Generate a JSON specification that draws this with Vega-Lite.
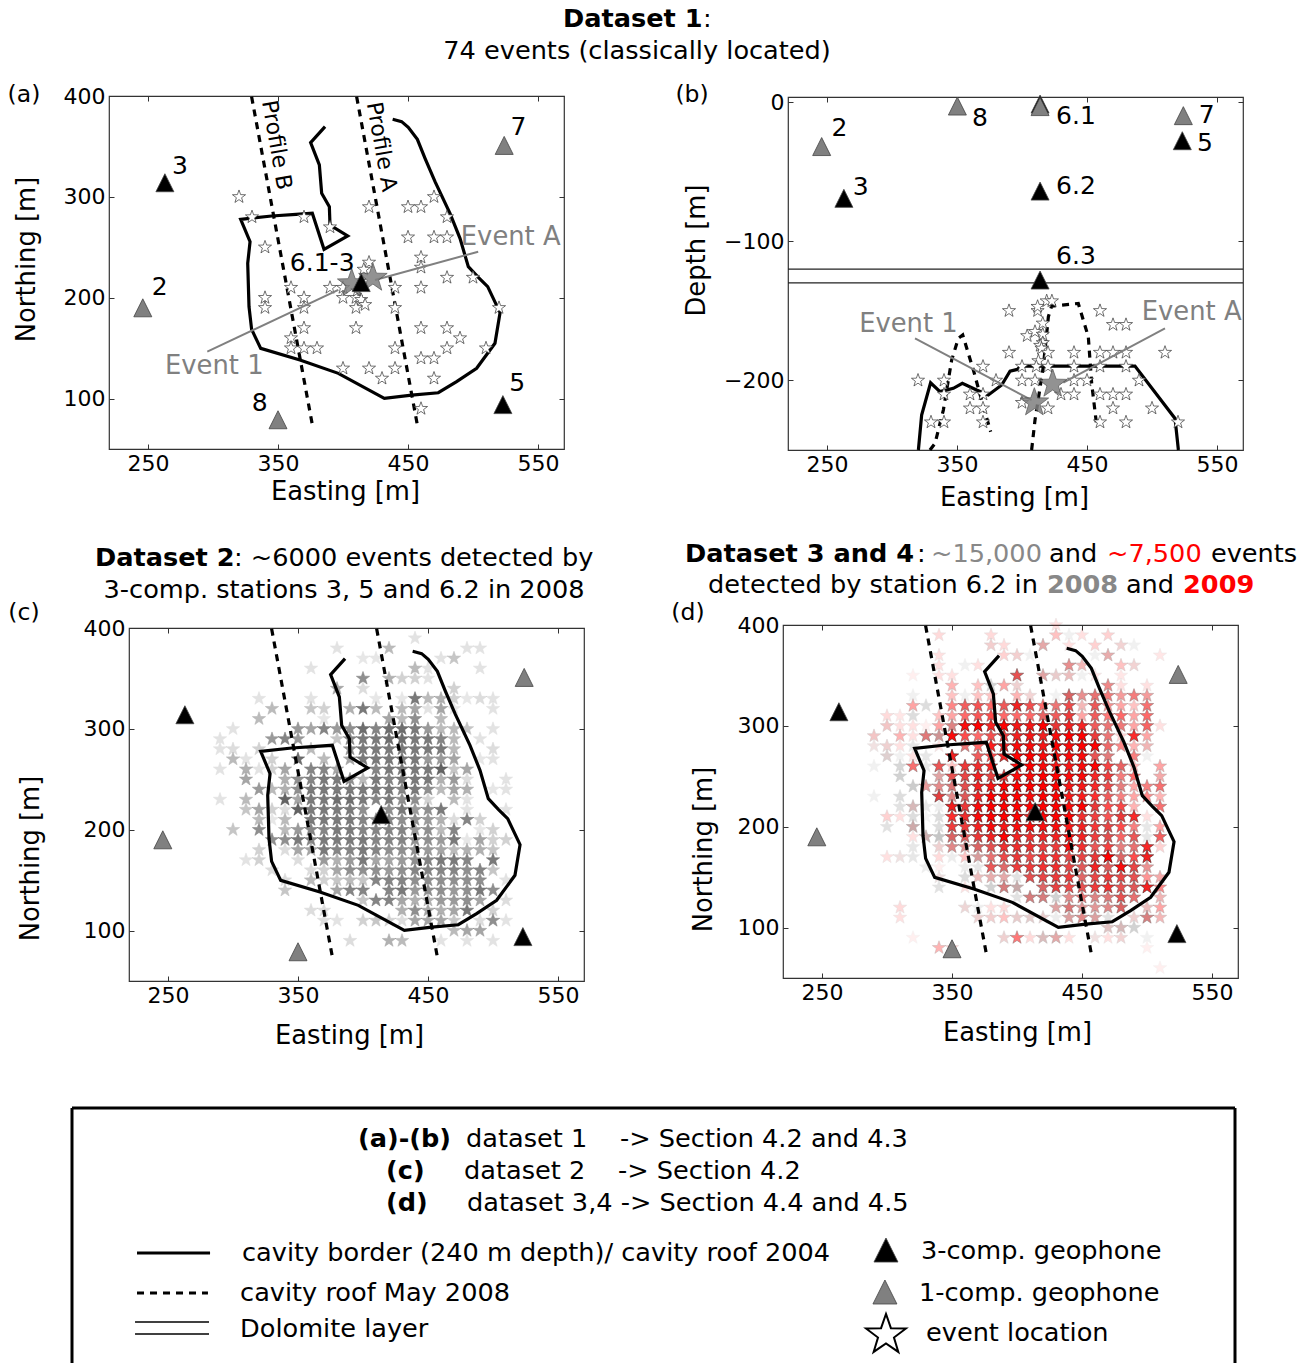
{"$schema":"https://vega.github.io/schema/vega-lite/v6.json","padding":0,"columns":1,"align":"none","bounds":"flush","spacing":0,
"config":{"font":"DejaVu Sans","view":{"stroke":null},"axis":{"grid":false,"domain":false,"tickSize":-5,"tickColor":"#333","labelFontSize":22,"titleFontSize":25.8,"titleFontWeight":"normal","labelColor":"black","labelPadding":9,"labelOverlap":false}},
"datasets":{"z":[{}],
"cav":[{"i":0,"e":438.2,"n":376.9},{"i":1,"e":445.1,"n":374.6},{"i":2,"e":450.2,"n":368.9},{"i":3,"e":457.2,"n":357},{"i":4,"e":463.1,"n":338.2},{"i":5,"e":470.8,"n":315.1},{"i":6,"e":482.3,"n":283.7},{"i":7,"e":490,"n":258.9},{"i":8,"e":496.4,"n":230.8},{"i":9,"e":504.1,"n":220.2},{"i":10,"e":511.3,"n":211},{"i":11,"e":520.8,"n":185.2},{"i":12,"e":516.9,"n":154.8},{"i":13,"e":502.8,"n":130},{"i":14,"e":487.4,"n":116.8},{"i":15,"e":473.3,"n":105.8},{"i":16,"e":452.8,"n":103.5},{"i":17,"e":431.8,"n":100.2},{"i":18,"e":396.4,"n":125},{"i":19,"e":366.9,"n":138.2},{"i":20,"e":336.7,"n":149.8},{"i":21,"e":329.7,"n":168.6},{"i":22,"e":327.7,"n":191.1},{"i":23,"e":326.7,"n":234},{"i":24,"e":328.5,"n":255.6},{"i":25,"e":321.3,"n":277.7},{"i":26,"e":345.1,"n":281},{"i":27,"e":376.4,"n":283.7},{"i":28,"e":385.4,"n":248},{"i":29,"e":403.6,"n":261.2},{"i":30,"e":390,"n":272.1},{"i":31,"e":389.5,"n":290.3},{"i":32,"e":383.6,"n":303.5},{"i":33,"e":381.8,"n":331.6},{"i":34,"e":375.1,"n":353.7},{"i":35,"e":386.2,"n":369.6}],
"prof":[{"s":"B","i":0,"e":329.7,"n":399.3},{"s":"B","i":1,"e":376.2,"n":75.5},{"s":"A","i":0,"e":410.5,"n":399.3},{"s":"A","i":1,"e":457.2,"n":73.8}],
"sta":[{"e":246,"n":190,"c":"1"},{"e":263,"n":314,"c":"3"},{"e":524,"n":351,"c":"1"},{"e":523,"n":94,"c":"3"},{"e":350,"n":79,"c":"1"},{"e":414,"n":215,"c":"3"}],
"stb":[{"e":245.9,"d":-32,"c":"1"},{"e":263,"d":-69.2,"c":"3"},{"e":350.3,"d":-2.9,"c":"1"},{"e":413.9,"d":-1.5,"c":"3"},{"e":413.9,"d":-3.3,"c":"1"},{"e":524.1,"d":-9.8,"c":"1"},{"e":523.3,"d":-27.8,"c":"3"},{"e":413.9,"d":-64,"c":"3"},{"e":413.9,"d":-127.9,"c":"3"}],
"ea":[{"e":320,"n":300},{"e":330,"n":280},{"e":370,"n":280},{"e":390,"n":270},{"e":420,"n":290},{"e":450,"n":290},{"e":460,"n":290},{"e":470,"n":300},{"e":480,"n":280},{"e":450,"n":260},{"e":470,"n":260},{"e":480,"n":260},{"e":340,"n":250},{"e":460,"n":240},{"e":460,"n":230},{"e":420,"n":235},{"e":416,"n":228},{"e":480,"n":220},{"e":500,"n":220},{"e":360,"n":210},{"e":390,"n":210},{"e":400,"n":210},{"e":440,"n":210},{"e":460,"n":210},{"e":340,"n":200},{"e":370,"n":200},{"e":400,"n":200},{"e":410,"n":200},{"e":411,"n":207},{"e":414,"n":198},{"e":340,"n":190},{"e":370,"n":190},{"e":410,"n":190},{"e":417,"n":193},{"e":440,"n":190},{"e":520,"n":190},{"e":370,"n":170},{"e":410,"n":170},{"e":460,"n":170},{"e":480,"n":170},{"e":360,"n":160},{"e":490,"n":160},{"e":360,"n":150},{"e":370,"n":150},{"e":380,"n":150},{"e":440,"n":150},{"e":480,"n":150},{"e":510,"n":150},{"e":460,"n":140},{"e":470,"n":140},{"e":400,"n":130},{"e":420,"n":130},{"e":440,"n":130},{"e":430,"n":120},{"e":470,"n":120},{"e":460,"n":90}],
"eb":[{"e":390,"d":-150},{"e":460,"d":-150},{"e":419,"d":-143},{"e":423,"d":-143},{"e":412,"d":-150},{"e":412,"d":-147},{"e":470,"d":-160},{"e":480,"d":-160},{"e":416,"d":-159},{"e":404,"d":-168},{"e":410,"d":-165},{"e":416,"d":-167},{"e":416,"d":-173},{"e":414,"d":-175},{"e":415,"d":-177},{"e":390,"d":-180},{"e":420,"d":-180},{"e":440,"d":-180},{"e":460,"d":-180},{"e":470,"d":-180},{"e":480,"d":-180},{"e":510,"d":-180},{"e":412.6,"d":-186},{"e":370,"d":-190},{"e":400,"d":-190},{"e":411,"d":-190},{"e":420,"d":-190},{"e":440,"d":-190},{"e":460,"d":-190},{"e":480,"d":-190},{"e":320,"d":-200},{"e":340,"d":-200},{"e":380,"d":-200},{"e":400,"d":-200},{"e":410,"d":-200},{"e":440,"d":-200},{"e":450,"d":-200},{"e":490,"d":-200},{"e":340,"d":-210},{"e":360,"d":-210},{"e":370,"d":-210},{"e":430,"d":-210},{"e":440,"d":-210},{"e":460,"d":-210},{"e":470,"d":-210},{"e":480,"d":-210},{"e":360,"d":-220},{"e":370,"d":-220},{"e":420,"d":-220},{"e":470,"d":-220},{"e":500,"d":-220},{"e":400,"d":-216},{"e":330,"d":-230},{"e":340,"d":-230},{"e":370,"d":-230},{"e":460,"d":-230},{"e":480,"d":-230},{"e":520,"d":-230}],
"c":[{"e":440,"n":390,"a":0.12},{"e":380,"n":380,"a":0.12},{"e":420,"n":380,"a":0.3},{"e":480,"n":380,"a":0.12},{"e":490,"n":380,"a":0.12},{"e":400,"n":370,"a":0.1},{"e":410,"n":370,"a":0.1},{"e":460,"n":370,"a":0.12},{"e":470,"n":370,"a":0.25},{"e":360,"n":360,"a":0.12},{"e":440,"n":360,"a":0.3},{"e":450,"n":360,"a":0.12},{"e":490,"n":360,"a":0.12},{"e":400,"n":350,"a":0.5},{"e":420,"n":350,"a":0.35},{"e":430,"n":350,"a":0.2},{"e":440,"n":350,"a":0.2},{"e":450,"n":350,"a":0.12},{"e":380,"n":340,"a":0.4},{"e":400,"n":340,"a":0.15},{"e":470,"n":340,"a":0.2},{"e":320,"n":330,"a":0.12},{"e":360,"n":330,"a":0.12},{"e":410,"n":330,"a":0.1},{"e":430,"n":330,"a":0.1},{"e":440,"n":330,"a":0.6},{"e":450,"n":330,"a":0.3},{"e":460,"n":330,"a":0.35},{"e":470,"n":330,"a":0.2},{"e":480,"n":330,"a":0.1},{"e":490,"n":330,"a":0.15},{"e":500,"n":330,"a":0.12},{"e":330,"n":320,"a":0.3},{"e":360,"n":320,"a":0.25},{"e":370,"n":320,"a":0.2},{"e":390,"n":320,"a":0.35},{"e":400,"n":320,"a":0.6},{"e":410,"n":320,"a":0.3},{"e":430,"n":320,"a":0.3},{"e":440,"n":320,"a":0.4},{"e":450,"n":320,"a":0.12},{"e":460,"n":320,"a":0.4},{"e":470,"n":320,"a":0.1},{"e":500,"n":320,"a":0.12},{"e":320,"n":310,"a":0.3},{"e":370,"n":310,"a":0.1},{"e":420,"n":310,"a":0.4},{"e":430,"n":310,"a":0.3},{"e":440,"n":310,"a":0.5},{"e":460,"n":310,"a":0.3},{"e":300,"n":300,"a":0.12},{"e":350,"n":300,"a":0.45},{"e":360,"n":300,"a":0.4},{"e":370,"n":300,"a":0.55},{"e":380,"n":300,"a":0.45},{"e":390,"n":300,"a":0.5},{"e":400,"n":300,"a":0.65},{"e":410,"n":300,"a":0.55},{"e":420,"n":300,"a":0.65},{"e":430,"n":300,"a":0.65},{"e":440,"n":300,"a":0.6},{"e":450,"n":300,"a":0.45},{"e":460,"n":300,"a":0.3},{"e":470,"n":300,"a":0.3},{"e":480,"n":300,"a":0.25},{"e":500,"n":300,"a":0.12},{"e":290,"n":290,"a":0.12},{"e":330,"n":290,"a":0.45},{"e":340,"n":290,"a":0.55},{"e":350,"n":290,"a":0.45},{"e":380,"n":290,"a":0.25},{"e":390,"n":290,"a":0.55},{"e":400,"n":290,"a":0.6},{"e":410,"n":290,"a":0.6},{"e":420,"n":290,"a":0.65},{"e":430,"n":290,"a":0.65},{"e":440,"n":290,"a":0.6},{"e":450,"n":290,"a":0.6},{"e":460,"n":290,"a":0.55},{"e":470,"n":290,"a":0.3},{"e":490,"n":290,"a":0.12},{"e":290,"n":280,"a":0.12},{"e":300,"n":280,"a":0.15},{"e":320,"n":280,"a":0.2},{"e":360,"n":280,"a":0.3},{"e":390,"n":280,"a":0.5},{"e":400,"n":280,"a":0.6},{"e":410,"n":280,"a":0.6},{"e":420,"n":280,"a":0.6},{"e":430,"n":280,"a":0.6},{"e":440,"n":280,"a":0.6},{"e":450,"n":280,"a":0.6},{"e":460,"n":280,"a":0.6},{"e":470,"n":280,"a":0.3},{"e":500,"n":280,"a":0.15},{"e":300,"n":270,"a":0.3},{"e":310,"n":270,"a":0.12},{"e":330,"n":270,"a":0.2},{"e":350,"n":270,"a":0.65},{"e":370,"n":270,"a":0.3},{"e":390,"n":270,"a":0.4},{"e":400,"n":270,"a":0.6},{"e":410,"n":270,"a":0.6},{"e":420,"n":270,"a":0.6},{"e":430,"n":270,"a":0.6},{"e":440,"n":270,"a":0.6},{"e":450,"n":270,"a":0.45},{"e":460,"n":270,"a":0.45},{"e":470,"n":270,"a":0.4},{"e":490,"n":270,"a":0.1},{"e":500,"n":270,"a":0.12},{"e":290,"n":260,"a":0.12},{"e":310,"n":260,"a":0.35},{"e":320,"n":260,"a":0.12},{"e":330,"n":260,"a":0.2},{"e":340,"n":260,"a":0.4},{"e":360,"n":260,"a":0.55},{"e":370,"n":260,"a":0.55},{"e":380,"n":260,"a":0.4},{"e":410,"n":260,"a":0.55},{"e":420,"n":260,"a":0.6},{"e":430,"n":260,"a":0.6},{"e":440,"n":260,"a":0.6},{"e":450,"n":260,"a":0.6},{"e":460,"n":260,"a":0.7},{"e":470,"n":260,"a":0.25},{"e":480,"n":260,"a":0.4},{"e":310,"n":250,"a":0.4},{"e":340,"n":250,"a":0.35},{"e":350,"n":250,"a":0.5},{"e":360,"n":250,"a":0.55},{"e":370,"n":250,"a":0.6},{"e":380,"n":250,"a":0.6},{"e":390,"n":250,"a":0.5},{"e":400,"n":250,"a":0.3},{"e":410,"n":250,"a":0.6},{"e":420,"n":250,"a":0.55},{"e":430,"n":250,"a":0.6},{"e":440,"n":250,"a":0.6},{"e":450,"n":250,"a":0.6},{"e":460,"n":250,"a":0.35},{"e":470,"n":250,"a":0.45},{"e":480,"n":250,"a":0.15},{"e":510,"n":250,"a":0.12},{"e":320,"n":240,"a":0.45},{"e":330,"n":240,"a":0.3},{"e":340,"n":240,"a":0.35},{"e":350,"n":240,"a":0.5},{"e":360,"n":240,"a":0.6},{"e":370,"n":240,"a":0.6},{"e":380,"n":240,"a":0.6},{"e":390,"n":240,"a":0.6},{"e":400,"n":240,"a":0.6},{"e":410,"n":240,"a":0.6},{"e":420,"n":240,"a":0.6},{"e":430,"n":240,"a":0.55},{"e":440,"n":240,"a":0.6},{"e":450,"n":240,"a":0.5},{"e":460,"n":240,"a":0.3},{"e":470,"n":240,"a":0.4},{"e":480,"n":240,"a":0.35},{"e":500,"n":240,"a":0.1},{"e":510,"n":240,"a":0.12},{"e":290,"n":230,"a":0.12},{"e":310,"n":230,"a":0.3},{"e":340,"n":230,"a":0.7},{"e":350,"n":230,"a":0.4},{"e":360,"n":230,"a":0.6},{"e":370,"n":230,"a":0.6},{"e":380,"n":230,"a":0.65},{"e":390,"n":230,"a":0.65},{"e":400,"n":230,"a":0.6},{"e":410,"n":230,"a":0.55},{"e":420,"n":230,"a":0.6},{"e":430,"n":230,"a":0.5},{"e":440,"n":230,"a":0.5},{"e":450,"n":230,"a":0.2},{"e":470,"n":230,"a":0.3},{"e":480,"n":230,"a":0.12},{"e":310,"n":220,"a":0.25},{"e":320,"n":220,"a":0.4},{"e":330,"n":220,"a":0.2},{"e":340,"n":220,"a":0.15},{"e":350,"n":220,"a":0.7},{"e":360,"n":220,"a":0.6},{"e":370,"n":220,"a":0.6},{"e":380,"n":220,"a":0.6},{"e":390,"n":220,"a":0.6},{"e":400,"n":220,"a":0.5},{"e":420,"n":220,"a":0.5},{"e":430,"n":220,"a":0.6},{"e":440,"n":220,"a":0.45},{"e":450,"n":220,"a":0.5},{"e":460,"n":220,"a":0.6},{"e":480,"n":220,"a":0.12},{"e":510,"n":220,"a":0.12},{"e":320,"n":210,"a":0.3},{"e":330,"n":210,"a":0.1},{"e":340,"n":210,"a":0.3},{"e":360,"n":210,"a":0.6},{"e":370,"n":210,"a":0.6},{"e":380,"n":210,"a":0.6},{"e":390,"n":210,"a":0.6},{"e":400,"n":210,"a":0.55},{"e":410,"n":210,"a":0.5},{"e":420,"n":210,"a":0.55},{"e":430,"n":210,"a":0.5},{"e":440,"n":210,"a":0.5},{"e":450,"n":210,"a":0.45},{"e":460,"n":210,"a":0.35},{"e":470,"n":210,"a":0.15},{"e":480,"n":210,"a":0.55},{"e":490,"n":210,"a":0.2},{"e":300,"n":200,"a":0.25},{"e":320,"n":200,"a":0.5},{"e":340,"n":200,"a":0.3},{"e":350,"n":200,"a":0.45},{"e":360,"n":200,"a":0.55},{"e":370,"n":200,"a":0.55},{"e":380,"n":200,"a":0.6},{"e":390,"n":200,"a":0.6},{"e":400,"n":200,"a":0.55},{"e":410,"n":200,"a":0.55},{"e":420,"n":200,"a":0.55},{"e":430,"n":200,"a":0.55},{"e":440,"n":200,"a":0.45},{"e":450,"n":200,"a":0.5},{"e":460,"n":200,"a":0.3},{"e":470,"n":200,"a":0.55},{"e":490,"n":200,"a":0.1},{"e":500,"n":200,"a":0.2},{"e":330,"n":190,"a":0.5},{"e":340,"n":190,"a":0.5},{"e":350,"n":190,"a":0.6},{"e":360,"n":190,"a":0.55},{"e":370,"n":190,"a":0.6},{"e":380,"n":190,"a":0.6},{"e":390,"n":190,"a":0.6},{"e":400,"n":190,"a":0.6},{"e":410,"n":190,"a":0.55},{"e":420,"n":190,"a":0.55},{"e":430,"n":190,"a":0.55},{"e":440,"n":190,"a":0.5},{"e":450,"n":190,"a":0.5},{"e":460,"n":190,"a":0.45},{"e":470,"n":190,"a":0.6},{"e":480,"n":190,"a":0.1},{"e":490,"n":190,"a":0.4},{"e":500,"n":190,"a":0.2},{"e":510,"n":190,"a":0.2},{"e":320,"n":180,"a":0.2},{"e":340,"n":180,"a":0.15},{"e":350,"n":180,"a":0.4},{"e":360,"n":180,"a":0.4},{"e":370,"n":180,"a":0.6},{"e":380,"n":180,"a":0.55},{"e":390,"n":180,"a":0.55},{"e":400,"n":180,"a":0.6},{"e":410,"n":180,"a":0.55},{"e":420,"n":180,"a":0.5},{"e":430,"n":180,"a":0.5},{"e":440,"n":180,"a":0.5},{"e":450,"n":180,"a":0.45},{"e":460,"n":180,"a":0.4},{"e":470,"n":180,"a":0.3},{"e":480,"n":180,"a":0.35},{"e":490,"n":180,"a":0.35},{"e":500,"n":180,"a":0.25},{"e":310,"n":170,"a":0.12},{"e":320,"n":170,"a":0.2},{"e":350,"n":170,"a":0.15},{"e":370,"n":170,"a":0.45},{"e":380,"n":170,"a":0.35},{"e":390,"n":170,"a":0.45},{"e":400,"n":170,"a":0.6},{"e":410,"n":170,"a":0.4},{"e":420,"n":170,"a":0.4},{"e":430,"n":170,"a":0.45},{"e":440,"n":170,"a":0.5},{"e":450,"n":170,"a":0.55},{"e":460,"n":170,"a":0.6},{"e":470,"n":170,"a":0.6},{"e":480,"n":170,"a":0.55},{"e":500,"n":170,"a":0.6},{"e":330,"n":160,"a":0.15},{"e":360,"n":160,"a":0.15},{"e":370,"n":160,"a":0.2},{"e":380,"n":160,"a":0.4},{"e":390,"n":160,"a":0.5},{"e":400,"n":160,"a":0.5},{"e":410,"n":160,"a":0.5},{"e":420,"n":160,"a":0.45},{"e":430,"n":160,"a":0.5},{"e":440,"n":160,"a":0.55},{"e":450,"n":160,"a":0.55},{"e":460,"n":160,"a":0.55},{"e":470,"n":160,"a":0.55},{"e":480,"n":160,"a":0.5},{"e":490,"n":160,"a":0.55},{"e":500,"n":160,"a":0.25},{"e":340,"n":150,"a":0.15},{"e":360,"n":150,"a":0.3},{"e":370,"n":150,"a":0.2},{"e":380,"n":150,"a":0.25},{"e":390,"n":150,"a":0.3},{"e":400,"n":150,"a":0.25},{"e":410,"n":150,"a":0.55},{"e":420,"n":150,"a":0.55},{"e":430,"n":150,"a":0.55},{"e":440,"n":150,"a":0.5},{"e":450,"n":150,"a":0.5},{"e":460,"n":150,"a":0.5},{"e":470,"n":150,"a":0.5},{"e":480,"n":150,"a":0.5},{"e":490,"n":150,"a":0.5},{"e":510,"n":150,"a":0.12},{"e":340,"n":140,"a":0.25},{"e":380,"n":140,"a":0.4},{"e":390,"n":140,"a":0.55},{"e":400,"n":140,"a":0.55},{"e":420,"n":140,"a":0.55},{"e":430,"n":140,"a":0.6},{"e":440,"n":140,"a":0.45},{"e":450,"n":140,"a":0.5},{"e":460,"n":140,"a":0.5},{"e":470,"n":140,"a":0.45},{"e":480,"n":140,"a":0.5},{"e":490,"n":140,"a":0.6},{"e":500,"n":140,"a":0.5},{"e":400,"n":130,"a":0.25},{"e":410,"n":130,"a":0.55},{"e":420,"n":130,"a":0.55},{"e":430,"n":130,"a":0.4},{"e":440,"n":130,"a":0.35},{"e":450,"n":130,"a":0.35},{"e":460,"n":130,"a":0.45},{"e":470,"n":130,"a":0.45},{"e":480,"n":130,"a":0.5},{"e":490,"n":130,"a":0.4},{"e":510,"n":130,"a":0.15},{"e":360,"n":120,"a":0.15},{"e":370,"n":120,"a":0.15},{"e":430,"n":120,"a":0.35},{"e":440,"n":120,"a":0.5},{"e":450,"n":120,"a":0.4},{"e":460,"n":120,"a":0.35},{"e":470,"n":120,"a":0.4},{"e":480,"n":120,"a":0.6},{"e":500,"n":120,"a":0.2},{"e":370,"n":110,"a":0.15},{"e":380,"n":110,"a":0.12},{"e":400,"n":110,"a":0.2},{"e":410,"n":110,"a":0.25},{"e":420,"n":110,"a":0.2},{"e":430,"n":110,"a":0.15},{"e":440,"n":110,"a":0.4},{"e":450,"n":110,"a":0.4},{"e":460,"n":110,"a":0.4},{"e":470,"n":110,"a":0.25},{"e":490,"n":110,"a":0.15},{"e":500,"n":110,"a":0.5},{"e":510,"n":110,"a":0.12},{"e":470,"n":100,"a":0.3},{"e":480,"n":100,"a":0.4},{"e":490,"n":100,"a":0.4},{"e":390,"n":90,"a":0.15},{"e":420,"n":90,"a":0.35},{"e":430,"n":90,"a":0.3},{"e":460,"n":90,"a":0.12},{"e":480,"n":90,"a":0.12},{"e":500,"n":90,"a":0.12}],
"r":[{"e":430,"n":400,"a":0.1},{"e":340,"n":390,"a":0.12},{"e":380,"n":390,"a":0.12},{"e":430,"n":390,"a":0.2},{"e":450,"n":390,"a":0.1},{"e":470,"n":390,"a":0.15},{"e":380,"n":380,"a":0.12},{"e":390,"n":380,"a":0.12},{"e":420,"n":380,"a":0.2},{"e":440,"n":380,"a":0.1},{"e":460,"n":380,"a":0.15},{"e":480,"n":380,"a":0.1},{"e":340,"n":370,"a":0.1},{"e":390,"n":370,"a":0.15},{"e":400,"n":370,"a":0.12},{"e":470,"n":370,"a":0.2},{"e":510,"n":370,"a":0.08},{"e":340,"n":360,"a":0.1},{"e":370,"n":360,"a":0.1},{"e":440,"n":360,"a":0.3},{"e":450,"n":360,"a":0.2},{"e":480,"n":360,"a":0.2},{"e":490,"n":360,"a":0.1},{"e":320,"n":350,"a":0.05},{"e":340,"n":350,"a":0.1},{"e":350,"n":350,"a":0.1},{"e":400,"n":350,"a":0.5},{"e":420,"n":350,"a":0.2},{"e":430,"n":350,"a":0.1},{"e":440,"n":350,"a":0.15},{"e":460,"n":350,"a":0.1},{"e":480,"n":350,"a":0.08},{"e":350,"n":340,"a":0.25},{"e":370,"n":340,"a":0.2},{"e":390,"n":340,"a":0.3},{"e":400,"n":340,"a":0.1},{"e":470,"n":340,"a":0.35},{"e":480,"n":340,"a":0.1},{"e":500,"n":340,"a":0.1},{"e":350,"n":330,"a":0.2},{"e":370,"n":330,"a":0.2},{"e":380,"n":330,"a":0.2},{"e":400,"n":330,"a":0.25},{"e":410,"n":330,"a":0.1},{"e":440,"n":330,"a":0.4},{"e":450,"n":330,"a":0.3},{"e":460,"n":330,"a":0.4},{"e":470,"n":330,"a":0.4},{"e":480,"n":330,"a":0.3},{"e":490,"n":330,"a":0.4},{"e":500,"n":330,"a":0.3},{"e":320,"n":320,"a":0.3},{"e":350,"n":320,"a":0.4},{"e":360,"n":320,"a":0.5},{"e":370,"n":320,"a":0.55},{"e":380,"n":320,"a":0.5},{"e":390,"n":320,"a":0.5},{"e":400,"n":320,"a":0.7},{"e":410,"n":320,"a":0.55},{"e":420,"n":320,"a":0.5},{"e":430,"n":320,"a":0.4},{"e":440,"n":320,"a":0.55},{"e":450,"n":320,"a":0.2},{"e":460,"n":320,"a":0.5},{"e":470,"n":320,"a":0.35},{"e":480,"n":320,"a":0.3},{"e":490,"n":320,"a":0.2},{"e":500,"n":320,"a":0.45},{"e":300,"n":310,"a":0.12},{"e":310,"n":310,"a":0.08},{"e":340,"n":310,"a":0.2},{"e":350,"n":310,"a":0.3},{"e":360,"n":310,"a":0.5},{"e":370,"n":310,"a":0.55},{"e":380,"n":310,"a":0.6},{"e":390,"n":310,"a":0.5},{"e":400,"n":310,"a":0.5},{"e":410,"n":310,"a":0.5},{"e":420,"n":310,"a":0.45},{"e":430,"n":310,"a":0.5},{"e":440,"n":310,"a":0.6},{"e":450,"n":310,"a":0.3},{"e":460,"n":310,"a":0.5},{"e":470,"n":310,"a":0.45},{"e":480,"n":310,"a":0.5},{"e":490,"n":310,"a":0.3},{"e":500,"n":310,"a":0.5},{"e":300,"n":300,"a":0.15},{"e":310,"n":300,"a":0.1},{"e":320,"n":300,"a":0.1},{"e":330,"n":300,"a":0.05},{"e":340,"n":300,"a":0.3},{"e":350,"n":300,"a":0.3},{"e":360,"n":300,"a":0.8},{"e":370,"n":300,"a":0.85},{"e":380,"n":300,"a":0.7},{"e":390,"n":300,"a":0.85},{"e":400,"n":300,"a":0.75},{"e":410,"n":300,"a":0.75},{"e":420,"n":300,"a":0.85},{"e":430,"n":300,"a":0.6},{"e":440,"n":300,"a":0.7},{"e":450,"n":300,"a":0.7},{"e":460,"n":300,"a":0.5},{"e":470,"n":300,"a":0.4},{"e":480,"n":300,"a":0.4},{"e":490,"n":300,"a":0.3},{"e":500,"n":300,"a":0.5},{"e":510,"n":300,"a":0.1},{"e":290,"n":290,"a":0.15},{"e":310,"n":290,"a":0.25},{"e":320,"n":290,"a":0.1},{"e":330,"n":290,"a":0.35},{"e":340,"n":290,"a":0.2},{"e":350,"n":290,"a":0.8},{"e":360,"n":290,"a":0.6},{"e":370,"n":290,"a":0.5},{"e":380,"n":290,"a":0.55},{"e":390,"n":290,"a":0.6},{"e":400,"n":290,"a":0.7},{"e":410,"n":290,"a":0.75},{"e":420,"n":290,"a":0.7},{"e":430,"n":290,"a":0.8},{"e":440,"n":290,"a":0.85},{"e":450,"n":290,"a":0.85},{"e":460,"n":290,"a":0.6},{"e":470,"n":290,"a":0.4},{"e":480,"n":290,"a":0.15},{"e":490,"n":290,"a":0.7},{"e":500,"n":290,"a":0.3},{"e":290,"n":280,"a":0.05},{"e":300,"n":280,"a":0.1},{"e":310,"n":280,"a":0.1},{"e":340,"n":280,"a":0.1},{"e":360,"n":280,"a":0.4},{"e":370,"n":280,"a":0.5},{"e":380,"n":280,"a":0.75},{"e":390,"n":280,"a":0.7},{"e":400,"n":280,"a":0.8},{"e":410,"n":280,"a":0.8},{"e":420,"n":280,"a":0.75},{"e":430,"n":280,"a":0.85},{"e":440,"n":280,"a":0.8},{"e":450,"n":280,"a":0.85},{"e":460,"n":280,"a":0.85},{"e":470,"n":280,"a":0.45},{"e":480,"n":280,"a":0.4},{"e":490,"n":280,"a":0.25},{"e":500,"n":280,"a":0.2},{"e":300,"n":270,"a":0.05},{"e":320,"n":270,"a":0.1},{"e":350,"n":270,"a":0.7},{"e":370,"n":270,"a":0.5},{"e":380,"n":270,"a":0.6},{"e":390,"n":270,"a":0.7},{"e":400,"n":270,"a":0.85},{"e":410,"n":270,"a":0.85},{"e":420,"n":270,"a":0.8},{"e":430,"n":270,"a":0.8},{"e":440,"n":270,"a":0.8},{"e":450,"n":270,"a":0.8},{"e":460,"n":270,"a":0.5},{"e":470,"n":270,"a":0.35},{"e":490,"n":270,"a":0.4},{"e":320,"n":260,"a":0.45},{"e":340,"n":260,"a":0.5},{"e":350,"n":260,"a":0.2},{"e":360,"n":260,"a":0.6},{"e":370,"n":260,"a":0.65},{"e":380,"n":260,"a":0.7},{"e":400,"n":260,"a":0.8},{"e":410,"n":260,"a":0.85},{"e":420,"n":260,"a":0.8},{"e":430,"n":260,"a":0.75},{"e":440,"n":260,"a":0.75},{"e":450,"n":260,"a":0.8},{"e":460,"n":260,"a":0.85},{"e":470,"n":260,"a":0.6},{"e":480,"n":260,"a":0.45},{"e":490,"n":260,"a":0.25},{"e":510,"n":260,"a":0.3},{"e":340,"n":250,"a":0.2},{"e":350,"n":250,"a":0.5},{"e":360,"n":250,"a":0.55},{"e":370,"n":250,"a":0.7},{"e":380,"n":250,"a":0.55},{"e":390,"n":250,"a":0.6},{"e":400,"n":250,"a":0.8},{"e":410,"n":250,"a":0.8},{"e":420,"n":250,"a":0.85},{"e":430,"n":250,"a":0.85},{"e":440,"n":250,"a":0.8},{"e":450,"n":250,"a":0.8},{"e":460,"n":250,"a":0.7},{"e":470,"n":250,"a":0.6},{"e":480,"n":250,"a":0.4},{"e":490,"n":250,"a":0.5},{"e":510,"n":250,"a":0.25},{"e":330,"n":240,"a":0.25},{"e":340,"n":240,"a":0.3},{"e":350,"n":240,"a":0.35},{"e":360,"n":240,"a":0.5},{"e":370,"n":240,"a":0.7},{"e":380,"n":240,"a":0.75},{"e":390,"n":240,"a":0.85},{"e":400,"n":240,"a":0.85},{"e":410,"n":240,"a":0.85},{"e":420,"n":240,"a":0.85},{"e":430,"n":240,"a":0.85},{"e":440,"n":240,"a":0.75},{"e":450,"n":240,"a":0.75},{"e":460,"n":240,"a":0.7},{"e":470,"n":240,"a":0.55},{"e":480,"n":240,"a":0.35},{"e":490,"n":240,"a":0.3},{"e":500,"n":240,"a":0.4},{"e":510,"n":240,"a":0.45},{"e":340,"n":230,"a":0.55},{"e":350,"n":230,"a":0.3},{"e":360,"n":230,"a":0.45},{"e":370,"n":230,"a":0.7},{"e":380,"n":230,"a":0.85},{"e":390,"n":230,"a":0.85},{"e":400,"n":230,"a":0.85},{"e":410,"n":230,"a":0.8},{"e":420,"n":230,"a":0.85},{"e":430,"n":230,"a":0.85},{"e":440,"n":230,"a":0.75},{"e":450,"n":230,"a":0.75},{"e":460,"n":230,"a":0.7},{"e":470,"n":230,"a":0.5},{"e":480,"n":230,"a":0.4},{"e":490,"n":230,"a":0.3},{"e":500,"n":230,"a":0.4},{"e":510,"n":230,"a":0.25},{"e":320,"n":220,"a":0.1},{"e":350,"n":220,"a":0.7},{"e":360,"n":220,"a":0.6},{"e":370,"n":220,"a":0.8},{"e":380,"n":220,"a":0.85},{"e":390,"n":220,"a":0.85},{"e":400,"n":220,"a":0.85},{"e":410,"n":220,"a":0.85},{"e":420,"n":220,"a":0.85},{"e":430,"n":220,"a":0.9},{"e":440,"n":220,"a":0.8},{"e":450,"n":220,"a":0.85},{"e":460,"n":220,"a":0.6},{"e":470,"n":220,"a":0.6},{"e":480,"n":220,"a":0.6},{"e":490,"n":220,"a":0.25},{"e":510,"n":220,"a":0.45},{"e":300,"n":210,"a":0.15},{"e":310,"n":210,"a":0.1},{"e":350,"n":210,"a":0.7},{"e":360,"n":210,"a":0.65},{"e":370,"n":210,"a":0.8},{"e":380,"n":210,"a":0.85},{"e":390,"n":210,"a":0.85},{"e":400,"n":210,"a":0.85},{"e":410,"n":210,"a":0.7},{"e":420,"n":210,"a":0.85},{"e":430,"n":210,"a":0.9},{"e":440,"n":210,"a":0.85},{"e":450,"n":210,"a":0.65},{"e":460,"n":210,"a":0.6},{"e":470,"n":210,"a":0.55},{"e":480,"n":210,"a":0.6},{"e":490,"n":210,"a":0.7},{"e":500,"n":210,"a":0.1},{"e":320,"n":200,"a":0.12},{"e":350,"n":200,"a":0.6},{"e":360,"n":200,"a":0.6},{"e":370,"n":200,"a":0.7},{"e":380,"n":200,"a":0.8},{"e":390,"n":200,"a":0.75},{"e":400,"n":200,"a":0.8},{"e":410,"n":200,"a":0.8},{"e":420,"n":200,"a":0.8},{"e":430,"n":200,"a":0.8},{"e":440,"n":200,"a":0.75},{"e":450,"n":200,"a":0.7},{"e":460,"n":200,"a":0.65},{"e":470,"n":200,"a":0.55},{"e":480,"n":200,"a":0.6},{"e":490,"n":200,"a":0.4},{"e":510,"n":200,"a":0.3},{"e":320,"n":190,"a":0.1},{"e":330,"n":190,"a":0.1},{"e":350,"n":190,"a":0.4},{"e":360,"n":190,"a":0.45},{"e":370,"n":190,"a":0.6},{"e":380,"n":190,"a":0.7},{"e":390,"n":190,"a":0.85},{"e":400,"n":190,"a":0.7},{"e":410,"n":190,"a":0.65},{"e":420,"n":190,"a":0.7},{"e":430,"n":190,"a":0.7},{"e":440,"n":190,"a":0.8},{"e":450,"n":190,"a":0.7},{"e":460,"n":190,"a":0.6},{"e":470,"n":190,"a":0.5},{"e":480,"n":190,"a":0.5},{"e":490,"n":190,"a":0.5},{"e":510,"n":190,"a":0.5},{"e":340,"n":180,"a":0.1},{"e":350,"n":180,"a":0.3},{"e":360,"n":180,"a":0.25},{"e":370,"n":180,"a":0.4},{"e":380,"n":180,"a":0.5},{"e":390,"n":180,"a":0.65},{"e":400,"n":180,"a":0.65},{"e":410,"n":180,"a":0.65},{"e":420,"n":180,"a":0.6},{"e":430,"n":180,"a":0.6},{"e":440,"n":180,"a":0.8},{"e":450,"n":180,"a":0.65},{"e":460,"n":180,"a":0.5},{"e":470,"n":180,"a":0.6},{"e":480,"n":180,"a":0.35},{"e":490,"n":180,"a":0.4},{"e":500,"n":180,"a":0.7},{"e":510,"n":180,"a":0.15},{"e":300,"n":170,"a":0.1},{"e":310,"n":170,"a":0.05},{"e":340,"n":170,"a":0.12},{"e":360,"n":170,"a":0.2},{"e":370,"n":170,"a":0.2},{"e":380,"n":170,"a":0.4},{"e":390,"n":170,"a":0.55},{"e":400,"n":170,"a":0.6},{"e":410,"n":170,"a":0.55},{"e":420,"n":170,"a":0.65},{"e":430,"n":170,"a":0.65},{"e":440,"n":170,"a":0.55},{"e":450,"n":170,"a":0.55},{"e":460,"n":170,"a":0.6},{"e":470,"n":170,"a":0.85},{"e":480,"n":170,"a":0.4},{"e":490,"n":170,"a":0.6},{"e":500,"n":170,"a":0.7},{"e":340,"n":160,"a":0.05},{"e":380,"n":160,"a":0.5},{"e":390,"n":160,"a":0.4},{"e":400,"n":160,"a":0.6},{"e":410,"n":160,"a":0.6},{"e":420,"n":160,"a":0.65},{"e":430,"n":160,"a":0.65},{"e":440,"n":160,"a":0.55},{"e":450,"n":160,"a":0.45},{"e":460,"n":160,"a":0.7},{"e":470,"n":160,"a":0.45},{"e":480,"n":160,"a":0.8},{"e":490,"n":160,"a":0.55},{"e":500,"n":160,"a":0.3},{"e":340,"n":150,"a":0.05},{"e":370,"n":150,"a":0.15},{"e":380,"n":150,"a":0.2},{"e":390,"n":150,"a":0.2},{"e":410,"n":150,"a":0.5},{"e":420,"n":150,"a":0.55},{"e":430,"n":150,"a":0.6},{"e":440,"n":150,"a":0.6},{"e":450,"n":150,"a":0.4},{"e":460,"n":150,"a":0.55},{"e":470,"n":150,"a":0.6},{"e":480,"n":150,"a":0.55},{"e":490,"n":150,"a":0.5},{"e":500,"n":150,"a":0.35},{"e":510,"n":150,"a":0.25},{"e":360,"n":140,"a":0.1},{"e":390,"n":140,"a":0.3},{"e":400,"n":140,"a":0.1},{"e":420,"n":140,"a":0.4},{"e":430,"n":140,"a":0.55},{"e":440,"n":140,"a":0.55},{"e":450,"n":140,"a":0.5},{"e":460,"n":140,"a":0.6},{"e":470,"n":140,"a":0.65},{"e":480,"n":140,"a":0.5},{"e":490,"n":140,"a":0.45},{"e":500,"n":140,"a":0.7},{"e":510,"n":140,"a":0.4},{"e":410,"n":130,"a":0.3},{"e":420,"n":130,"a":0.3},{"e":440,"n":130,"a":0.3},{"e":450,"n":130,"a":0.4},{"e":460,"n":130,"a":0.3},{"e":470,"n":130,"a":0.35},{"e":480,"n":130,"a":0.5},{"e":490,"n":130,"a":0.4},{"e":510,"n":130,"a":0.2},{"e":310,"n":120,"a":0.12},{"e":360,"n":120,"a":0.08},{"e":380,"n":120,"a":0.1},{"e":390,"n":120,"a":0.12},{"e":430,"n":120,"a":0.2},{"e":440,"n":120,"a":0.35},{"e":450,"n":120,"a":0.25},{"e":460,"n":120,"a":0.25},{"e":470,"n":120,"a":0.3},{"e":480,"n":120,"a":0.4},{"e":500,"n":120,"a":0.15},{"e":510,"n":120,"a":0.3},{"e":310,"n":110,"a":0.1},{"e":370,"n":110,"a":0.1},{"e":380,"n":110,"a":0.12},{"e":390,"n":110,"a":0.2},{"e":400,"n":110,"a":0.1},{"e":410,"n":110,"a":0.08},{"e":420,"n":110,"a":0.1},{"e":440,"n":110,"a":0.2},{"e":450,"n":110,"a":0.3},{"e":460,"n":110,"a":0.2},{"e":490,"n":110,"a":0.1},{"e":500,"n":110,"a":0.3},{"e":510,"n":110,"a":0.2},{"e":470,"n":100,"a":0.1},{"e":480,"n":100,"a":0.1},{"e":320,"n":90,"a":0.05},{"e":390,"n":90,"a":0.1},{"e":400,"n":90,"a":0.45},{"e":410,"n":90,"a":0.12},{"e":420,"n":90,"a":0.1},{"e":430,"n":90,"a":0.2},{"e":440,"n":90,"a":0.1},{"e":460,"n":90,"a":0.05},{"e":470,"n":90,"a":0.1},{"e":480,"n":90,"a":0.1},{"e":340,"n":80,"a":0.25},{"e":350,"n":80,"a":0.15},{"e":500,"n":80,"a":0.05},{"e":510,"n":60,"a":0.05}]
},
"concat":[
{"bounds":"flush","spacing":0,"hconcat":[{"width":109,"height":1,"data":{"name":"z"},"mark":{"type":"point","opacity":0,"size":0},"encoding":{}},{"bounds":"flush","spacing":0,"vconcat":[{"width":1,"height":96,"data":{"name":"z"},"mark":{"type":"point","opacity":0,"size":0},"encoding":{}},
{"width":455,"height":353,"view":{"stroke":"#333","strokeWidth":1.2},"resolve":{"axis":{"x":"independent","y":"independent"}},
"encoding":{"x":{"field":"e","type":"quantitative","scale":{"domain":[220,570],"nice":false,"zero":false},"axis":null},"y":{"field":"n","type":"quantitative","scale":{"domain":[50,400],"nice":false,"zero":false},"axis":null}},
"layer":[
{"data":{"name":"prof"},"mark":{"type":"line","color":"black","strokeWidth":3.2,"strokeDash":[7,6]},"encoding":{"detail":{"field":"s"},"order":{"field":"i"},"x":{"field":"e","type":"quantitative","scale":{"domain":[220,570],"nice":false,"zero":false},"axis":{"orient":"bottom","values":[250,350,450,550],"title":"Easting [m]","titlePadding":5,"titleX":236}},"y":{"field":"n","type":"quantitative","scale":{"domain":[50,400],"nice":false,"zero":false},"axis":{"orient":"left","values":[100,200,300,400],"title":"Northing [m]","titlePadding":24,"titleY":163}}}},
{"data":{"name":"cav"},"mark":{"type":"line","color":"black","strokeWidth":3.2},"encoding":{"order":{"field":"i"},"x":{"field":"e","type":"quantitative","scale":{"domain":[220,570],"nice":false,"zero":false},"axis":{"orient":"top","values":[250,350,450,550],"labels":false,"title":null}},"y":{"field":"n","type":"quantitative","scale":{"domain":[50,400],"nice":false,"zero":false},"axis":{"orient":"right","values":[100,200,300,400],"labels":false,"title":null}}}},
{"data":{"name":"ea"},"mark":{"type":"point","shape":"M0,-1L0.235,-0.324L0.951,-0.309L0.38,0.124L0.588,0.809L0,0.4L-0.588,0.809L-0.38,0.124L-0.951,-0.309L-0.235,-0.324Z","filled":true,"fill":"white","stroke":"#333","strokeWidth":0.7,"size":190,"opacity":1}},
{"data":{"values":[{"s":"A","i":0,"e":424.6,"n":217.6},{"s":"A","i":1,"e":504,"n":245.6},{"s":"1","i":0,"e":396.4,"n":207.7},{"s":"1","i":1,"e":295.6,"n":146.5}]},"mark":{"type":"line","color":"#808080","strokeWidth":2},"encoding":{"detail":{"field":"s"},"order":{"field":"i"}}},
{"data":{"values":[{"e":406.7,"n":214},{"e":423,"n":219.5}]},"mark":{"type":"point","shape":"M0,-1L0.235,-0.324L0.951,-0.309L0.38,0.124L0.588,0.809L0,0.4L-0.588,0.809L-0.38,0.124L-0.951,-0.309L-0.235,-0.324Z","filled":true,"fill":"#808080","stroke":"#444","strokeWidth":0.8,"size":900,"opacity":0.85}},
{"data":{"name":"sta"},"mark":{"type":"point","shape":"M0,-1L-1,1L1,1Z","filled":true,"strokeWidth":0.8,"stroke":"#444","size":324,"opacity":1},"encoding":{"color":{"field":"c","type":"nominal","scale":{"domain":["1","3"],"range":["#808080","#000000"]},"legend":null}}},
{"data":{"values":[{"t":"3","e":274.6,"n":330.6},{"t":"2","e":259,"n":210.6},{"t":"7","e":535,"n":369},{"t":"5","e":534,"n":115.4},{"t":"8","e":336,"n":95.6},{"t":"6.1-3","e":384,"n":234}]},"mark":{"type":"text","fontSize":25,"color":"black"},"encoding":{"text":{"field":"t"}}},
{"data":{"values":[{"t":"Event A","e":529,"n":260},{"t":"Event 1","e":301,"n":132}]},"mark":{"type":"text","fontSize":25.8,"color":"#808080"},"encoding":{"text":{"field":"t"}}},
{"data":{"values":[{"t":"Profile B","e":349,"n":351.4},{"t":"Profile A","e":429.7,"n":349.7}]},"mark":{"type":"text","fontSize":22,"color":"black","angle":80},"encoding":{"text":{"field":"t"}}},
{"data":{"values":[{"t":"(a)","e":154.6,"n":401}]},"mark":{"type":"text","fontSize":23.5,"color":"black"},"encoding":{"text":{"field":"t"}}},
{"data":{"values":[{"t":"Dataset 1","e":569.2,"n":476.3}]},"mark":{"type":"text","fontSize":25.6,"fontWeight":"bold","align":"left","color":"black"},"encoding":{"text":{"field":"t"}}},
{"data":{"values":[{"t":":","e":677,"n":476.3}]},"mark":{"type":"text","fontSize":25.6,"align":"left","color":"black"},"encoding":{"text":{"field":"t"}}},
{"data":{"values":[{"t":"74 events (classically located)","e":626.2,"n":444.6}]},"mark":{"type":"text","fontSize":25.6,"color":"black"},"encoding":{"text":{"field":"t"}}}
]}]}]},
{"bounds":"flush","spacing":0,"hconcat":[{"width":788,"height":1,"data":{"name":"z"},"mark":{"type":"point","opacity":0,"size":0},"encoding":{}},{"bounds":"flush","spacing":0,"vconcat":[{"width":1,"height":97,"data":{"name":"z"},"mark":{"type":"point","opacity":0,"size":0},"encoding":{}},
{"width":455,"height":353,"view":{"stroke":"#333","strokeWidth":1.2},"resolve":{"axis":{"x":"independent","y":"independent"}},
"encoding":{"x":{"field":"e","type":"quantitative","scale":{"domain":[220,570],"nice":false,"zero":false},"axis":null},"y":{"field":"d","type":"quantitative","scale":{"domain":[-250,3.6],"nice":false,"zero":false},"axis":null}},
"layer":[
{"data":{"values":[{"s":"a","i":0,"e":329.2,"d":-250},{"s":"a","i":1,"e":333.1,"d":-245.2},{"s":"a","i":2,"e":339.5,"d":-221.3},{"s":"a","i":3,"e":345.9,"d":-185.4},{"s":"a","i":4,"e":351,"d":-169.8},{"s":"a","i":5,"e":354.4,"d":-167.4},{"s":"a","i":6,"e":358.7,"d":-180.6},{"s":"a","i":7,"e":362.6,"d":-192.5},{"s":"a","i":8,"e":370.3,"d":-218.9},{"s":"a","i":9,"e":375.9,"d":-236.9},{"s":"b","i":0,"e":407.4,"d":-250},{"s":"b","i":1,"e":410,"d":-228.5},{"s":"b","i":2,"e":416.4,"d":-190.2},{"s":"b","i":3,"e":420.3,"d":-154.2},{"s":"b","i":4,"e":422.8,"d":-146.6},{"s":"b","i":5,"e":443.3,"d":-144.7},{"s":"b","i":6,"e":451,"d":-168.6},{"s":"b","i":7,"e":453.6,"d":-202.1},{"s":"b","i":8,"e":457.4,"d":-232.1}]},"mark":{"type":"line","color":"black","strokeWidth":3.2,"strokeDash":[7,6]},"encoding":{"detail":{"field":"s"},"order":{"field":"i"},"x":{"field":"e","type":"quantitative","scale":{"domain":[220,570],"nice":false,"zero":false},"axis":{"orient":"bottom","values":[250,350,450,550],"title":"Easting [m]","titlePadding":10.5,"titleX":226}},"y":{"field":"d","type":"quantitative","scale":{"domain":[-250,3.6],"nice":false,"zero":false},"axis":{"orient":"left","values":[0,-100,-200],"title":"Depth [m]","titlePadding":14,"titleY":153}}}},
{"data":{"values":[{"i":0,"e":320.3,"d":-250},{"i":1,"e":322.8,"d":-224.9},{"i":2,"e":329.7,"d":-201.7},{"i":3,"e":336.9,"d":-208.1},{"i":4,"e":347.2,"d":-205.7},{"i":5,"e":354.1,"d":-202.1},{"i":6,"e":365.1,"d":-206.9},{"i":7,"e":374.1,"d":-210.5},{"i":8,"e":384.4,"d":-203.3},{"i":9,"e":390.8,"d":-193.3},{"i":10,"e":396.4,"d":-192.1},{"i":11,"e":399,"d":-189.7},{"i":12,"e":486.9,"d":-189.7},{"i":13,"e":517.7,"d":-227.3},{"i":14,"e":520.3,"d":-250}]},"mark":{"type":"line","color":"black","strokeWidth":3.2},"encoding":{"order":{"field":"i"},"x":{"field":"e","type":"quantitative","scale":{"domain":[220,570],"nice":false,"zero":false},"axis":{"orient":"top","values":[250,350,450,550],"labels":false,"title":null}},"y":{"field":"d","type":"quantitative","scale":{"domain":[-250,3.6],"nice":false,"zero":false},"axis":{"orient":"right","values":[0,-100,-200],"labels":false,"title":null}}}},
{"data":{"values":[{"s":"u","i":0,"e":220,"d":-120},{"s":"u","i":1,"e":570,"d":-120},{"s":"l","i":0,"e":220,"d":-130},{"s":"l","i":1,"e":570,"d":-130}]},"mark":{"type":"line","color":"#222","strokeWidth":1.2},"encoding":{"detail":{"field":"s"},"order":{"field":"i"}}},
{"data":{"name":"eb"},"mark":{"type":"point","shape":"M0,-1L0.235,-0.324L0.951,-0.309L0.38,0.124L0.588,0.809L0,0.4L-0.588,0.809L-0.38,0.124L-0.951,-0.309L-0.235,-0.324Z","filled":true,"fill":"white","stroke":"#333","strokeWidth":0.7,"size":190,"opacity":1}},
{"data":{"values":[{"s":"A","i":0,"e":510,"d":-162.6},{"s":"A","i":1,"e":431.8,"d":-201.6},{"s":"1","i":0,"e":317.7,"d":-169.8},{"s":"1","i":1,"e":407.4,"d":-214.1}]},"mark":{"type":"line","color":"#808080","strokeWidth":2},"encoding":{"detail":{"field":"s"},"order":{"field":"i"}}},
{"data":{"values":[{"e":409.5,"d":-216},{"e":423.6,"d":-202.6}]},"mark":{"type":"point","shape":"M0,-1L0.235,-0.324L0.951,-0.309L0.38,0.124L0.588,0.809L0,0.4L-0.588,0.809L-0.38,0.124L-0.951,-0.309L-0.235,-0.324Z","filled":true,"fill":"#808080","stroke":"#444","strokeWidth":0.8,"size":900,"opacity":0.85}},
{"data":{"name":"stb"},"mark":{"type":"point","shape":"M0,-1L-1,1L1,1Z","filled":true,"strokeWidth":0.8,"stroke":"#444","size":324,"opacity":1},"encoding":{"color":{"field":"c","type":"nominal","scale":{"domain":["1","3"],"range":["#808080","#000000"]},"legend":null}}},
{"data":{"values":[{"t":"2","e":259.5,"d":-19},{"t":"3","e":275.9,"d":-60.8},{"t":"8","e":367.7,"d":-11.7},{"t":"6.1","e":441.5,"d":-10},{"t":"7","e":542,"d":-9.4},{"t":"5","e":540.8,"d":-29.2},{"t":"6.2","e":441.5,"d":-60.1},{"t":"6.3","e":441.5,"d":-110.4}]},"mark":{"type":"text","fontSize":25,"color":"black"},"encoding":{"text":{"field":"t"}}},
{"data":{"values":[{"t":"Event 1","e":312.6,"d":-159.5},{"t":"Event A","e":530.5,"d":-151.1}]},"mark":{"type":"text","fontSize":25.8,"color":"#808080"},"encoding":{"text":{"field":"t"}}},
{"data":{"values":[{"t":"(b)","e":146.2,"d":5}]},"mark":{"type":"text","fontSize":23.5,"color":"black"},"encoding":{"text":{"field":"t"}}}
]}]}]},
{"bounds":"flush","spacing":0,"hconcat":[{"width":129,"height":1,"data":{"name":"z"},"mark":{"type":"point","opacity":0,"size":0},"encoding":{}},{"bounds":"flush","spacing":0,"vconcat":[{"width":1,"height":628,"data":{"name":"z"},"mark":{"type":"point","opacity":0,"size":0},"encoding":{}},
{"width":455,"height":353,"view":{"stroke":"#333","strokeWidth":1.2},"resolve":{"axis":{"x":"independent","y":"independent"}},
"encoding":{"x":{"field":"e","type":"quantitative","scale":{"domain":[220,570],"nice":false,"zero":false},"axis":null},"y":{"field":"n","type":"quantitative","scale":{"domain":[50,400],"nice":false,"zero":false},"axis":null}},
"layer":[
{"data":{"name":"c"},"mark":{"type":"point","shape":"M0,-1L0.235,-0.324L0.951,-0.309L0.38,0.124L0.588,0.809L0,0.4L-0.588,0.809L-0.38,0.124L-0.951,-0.309L-0.235,-0.324Z","filled":true,"fill":"#222222","stroke":"#000","strokeWidth":0.5,"size":196},"encoding":{"opacity":{"field":"a","type":"quantitative","scale":null,"legend":null},"x":{"field":"e","type":"quantitative","scale":{"domain":[220,570],"nice":false,"zero":false},"axis":{"orient":"bottom","values":[250,350,450,550],"title":"Easting [m]","titlePadding":17,"titleX":220}},"y":{"field":"n","type":"quantitative","scale":{"domain":[50,400],"nice":false,"zero":false},"axis":{"orient":"left","values":[100,200,300,400],"title":"Northing [m]","titlePadding":40,"titleY":230}}}},
{"data":{"name":"prof"},"mark":{"type":"line","color":"black","strokeWidth":3.2,"strokeDash":[7,6]},"encoding":{"detail":{"field":"s"},"order":{"field":"i"},"x":{"field":"e","type":"quantitative","scale":{"domain":[220,570],"nice":false,"zero":false},"axis":{"orient":"top","values":[250,350,450,550],"labels":false,"title":null}},"y":{"field":"n","type":"quantitative","scale":{"domain":[50,400],"nice":false,"zero":false},"axis":{"orient":"right","values":[100,200,300,400],"labels":false,"title":null}}}},
{"data":{"name":"cav"},"mark":{"type":"line","color":"black","strokeWidth":3.2},"encoding":{"order":{"field":"i"}}},
{"data":{"name":"sta"},"mark":{"type":"point","shape":"M0,-1L-1,1L1,1Z","filled":true,"strokeWidth":0.8,"stroke":"#444","size":324,"opacity":1},"encoding":{"color":{"field":"c","type":"nominal","scale":{"domain":["1","3"],"range":["#808080","#000000"]},"legend":null}}},
{"data":{"values":[{"t":"(c)","e":139.2,"n":414.9}]},"mark":{"type":"text","fontSize":23.5,"color":"black"},"encoding":{"text":{"field":"t"}}},
{"data":{"values":[{"t":"Dataset 2","e":193.8,"n":469.4}]},"mark":{"type":"text","fontSize":25.6,"fontWeight":"bold","align":"left","color":"black"},"encoding":{"text":{"field":"t"}}},
{"data":{"values":[{"t":": ~6000 events detected by","e":300.8,"n":469.4}]},"mark":{"type":"text","fontSize":25.6,"align":"left","color":"black"},"encoding":{"text":{"field":"t"}}},
{"data":{"values":[{"t":"3-comp. stations 3, 5 and 6.2 in 2008","e":385.4,"n":437.7}]},"mark":{"type":"text","fontSize":25.6,"color":"black"},"encoding":{"text":{"field":"t"}}}
]}]}]},
{"bounds":"flush","spacing":0,"hconcat":[{"width":783,"height":1,"data":{"name":"z"},"mark":{"type":"point","opacity":0,"size":0},"encoding":{}},{"bounds":"flush","spacing":0,"vconcat":[{"width":1,"height":625,"data":{"name":"z"},"mark":{"type":"point","opacity":0,"size":0},"encoding":{}},
{"width":455,"height":353,"view":{"stroke":"#333","strokeWidth":1.2},"resolve":{"axis":{"x":"independent","y":"independent"},"scale":{"opacity":"independent"}},
"encoding":{"x":{"field":"e","type":"quantitative","scale":{"domain":[220,570],"nice":false,"zero":false},"axis":null},"y":{"field":"n","type":"quantitative","scale":{"domain":[50,400],"nice":false,"zero":false},"axis":null}},
"layer":[
{"data":{"name":"c"},"mark":{"type":"point","shape":"M0,-1L0.235,-0.324L0.951,-0.309L0.38,0.124L0.588,0.809L0,0.4L-0.588,0.809L-0.38,0.124L-0.951,-0.309L-0.235,-0.324Z","filled":true,"fill":"#222222","stroke":"#000","strokeWidth":0.5,"size":196},"encoding":{"opacity":{"field":"a","type":"quantitative","scale":{"domain":[0,1],"range":[0,0.5]},"legend":null},"x":{"field":"e","type":"quantitative","scale":{"domain":[220,570],"nice":false,"zero":false},"axis":{"orient":"bottom","values":[250,350,450,550],"title":"Easting [m]","titlePadding":17,"titleX":234}},"y":{"field":"n","type":"quantitative","scale":{"domain":[50,400],"nice":false,"zero":false},"axis":{"orient":"left","values":[100,200,300,400],"title":"Northing [m]","titlePadding":21,"titleY":224}}}},
{"data":{"name":"r"},"mark":{"type":"point","shape":"M0,-1L0.235,-0.324L0.951,-0.309L0.38,0.124L0.588,0.809L0,0.4L-0.588,0.809L-0.38,0.124L-0.951,-0.309L-0.235,-0.324Z","filled":true,"fill":"#ff0000","stroke":"#300","strokeWidth":0.5,"size":196},"encoding":{"opacity":{"field":"a","type":"quantitative","scale":{"domain":[0,0.85],"range":[0,1],"clamp":true},"legend":null}}},
{"data":{"name":"prof"},"mark":{"type":"line","color":"black","strokeWidth":3.2,"strokeDash":[7,6]},"encoding":{"detail":{"field":"s"},"order":{"field":"i"},"x":{"field":"e","type":"quantitative","scale":{"domain":[220,570],"nice":false,"zero":false},"axis":{"orient":"top","values":[250,350,450,550],"labels":false,"title":null}},"y":{"field":"n","type":"quantitative","scale":{"domain":[50,400],"nice":false,"zero":false},"axis":{"orient":"right","values":[100,200,300,400],"labels":false,"title":null}}}},
{"data":{"name":"cav"},"mark":{"type":"line","color":"black","strokeWidth":3.2},"encoding":{"order":{"field":"i"}}},
{"data":{"name":"sta"},"mark":{"type":"point","shape":"M0,-1L-1,1L1,1Z","filled":true,"strokeWidth":0.8,"stroke":"#444","size":324,"opacity":1},"encoding":{"color":{"field":"c","type":"nominal","scale":{"domain":["1","3"],"range":["#808080","#000000"]},"legend":null}}},
{"data":{"values":[{"t":"(d)","e":146.9,"n":411.9}]},"mark":{"type":"text","fontSize":23.5,"color":"black"},"encoding":{"text":{"field":"t"}}},
{"data":{"values":[{"t":"Dataset 3 and 4","e":144.6,"n":470.4}]},"mark":{"type":"text","fontSize":25.6,"fontWeight":"bold","align":"left","color":"black"},"encoding":{"text":{"field":"t"}}},
{"data":{"values":[{"t":":","e":323,"n":470.4},{"t":"and","e":424.6,"n":470.4},{"t":"events","e":549.2,"n":470.4},{"t":"detected by station 6.2 in","e":162.3,"n":439.7},{"t":"and","e":483.8,"n":439.7}]},"mark":{"type":"text","fontSize":25.6,"align":"left","color":"black"},"encoding":{"text":{"field":"t"}}},
{"data":{"values":[{"t":"~15,000","e":333.8,"n":470.4}]},"mark":{"type":"text","fontSize":25.6,"align":"left","color":"#888888"},"encoding":{"text":{"field":"t"}}},
{"data":{"values":[{"t":"~7,500","e":469.2,"n":470.4}]},"mark":{"type":"text","fontSize":25.6,"align":"left","color":"#ff0000"},"encoding":{"text":{"field":"t"}}},
{"data":{"values":[{"t":"2008","e":423,"n":439.7}]},"mark":{"type":"text","fontSize":25.6,"fontWeight":"bold","align":"left","color":"#888888"},"encoding":{"text":{"field":"t"}}},
{"data":{"values":[{"t":"2009","e":527.7,"n":439.7}]},"mark":{"type":"text","fontSize":25.6,"fontWeight":"bold","align":"left","color":"#ff0000"},"encoding":{"text":{"field":"t"}}}
]}]}]},
{"bounds":"flush","spacing":0,"hconcat":[{"width":72,"height":1,"data":{"name":"z"},"mark":{"type":"point","opacity":0,"size":0},"encoding":{}},{"bounds":"flush","spacing":0,"vconcat":[{"width":1,"height":1108,"data":{"name":"z"},"mark":{"type":"point","opacity":0,"size":0},"encoding":{}},
{"width":1163,"height":255,
"encoding":{"x":{"field":"x","type":"quantitative","scale":{"domain":[0,100],"nice":false,"zero":false},"axis":null},"y":{"field":"y","type":"quantitative","scale":{"domain":[0,100],"nice":false,"zero":false,"reverse":true},"axis":null}},
"layer":[
{"data":{"values":[{"x":0,"y":0,"x2":0,"y2":100},{"x":0,"y":0,"x2":100,"y2":0},{"x":100,"y":0,"x2":100,"y2":100}]},"mark":{"type":"rule","color":"black","strokeWidth":3},"encoding":{"x2":{"field":"x2"},"y2":{"field":"y2"}}},
{"data":{"values":[{"x":5.59,"y":56.86,"x2":11.87,"y2":56.86}]},"mark":{"type":"rule","color":"black","strokeWidth":3},"encoding":{"x2":{"field":"x2"},"y2":{"field":"y2"}}},
{"data":{"values":[{"x":5.59,"y":72.55,"x2":11.69,"y2":72.55}]},"mark":{"type":"rule","color":"black","strokeWidth":3,"strokeDash":[7,6]},"encoding":{"x2":{"field":"x2"},"y2":{"field":"y2"}}},
{"data":{"values":[{"x":5.42,"y":83.9,"x2":11.78,"y2":83.9},{"x":5.42,"y":88.6,"x2":11.78,"y2":88.6}]},"mark":{"type":"rule","color":"black","strokeWidth":1.5},"encoding":{"x2":{"field":"x2"},"y2":{"field":"y2"}}},
{"data":{"values":[{"x":69.99,"y":55.7,"c":"3"},{"x":69.9,"y":72.16,"c":"1"}]},"mark":{"type":"point","shape":"M0,-1L-1,1L1,1Z","filled":true,"strokeWidth":0.8,"stroke":"#444","size":576,"opacity":1},"encoding":{"color":{"field":"c","type":"nominal","scale":{"domain":["1","3"],"range":["#808080","#000000"]},"legend":null}}},
{"data":{"values":[{"x":69.99,"y":89}]},"mark":{"type":"point","shape":"M0,-1L0.235,-0.324L0.951,-0.309L0.38,0.124L0.588,0.809L0,0.4L-0.588,0.809L-0.38,0.124L-0.951,-0.309L-0.235,-0.324Z","filled":true,"fill":"white","stroke":"black","strokeWidth":2,"size":1764,"opacity":1}},
{"data":{"values":[{"t":"(a)-(b)","x":24.59,"y":12.16},{"t":"(c)","x":27,"y":24.7},{"t":"(d)","x":27,"y":37.25}]},"mark":{"type":"text","fontSize":25.6,"fontWeight":"bold","align":"left","color":"black"},"encoding":{"text":{"field":"t"}}},
{"data":{"values":[{"t":"dataset 1","x":33.88,"y":12.16},{"t":"-> Section 4.2 and 4.3","x":47.12,"y":12.16},{"t":"dataset 2","x":33.71,"y":24.7},{"t":"-> Section 4.2","x":46.95,"y":24.7},{"t":"dataset 3,4 -> Section 4.4 and 4.5","x":33.96,"y":37.25},{"t":"cavity border (240 m depth)/ cavity roof 2004","x":14.62,"y":56.86},{"t":"cavity roof May 2008","x":14.45,"y":72.55},{"t":"Dolomite layer","x":14.45,"y":86.67},{"t":"3-comp. geophone","x":73,"y":56.08},{"t":"1-comp. geophone","x":72.83,"y":72.55},{"t":"event location","x":73.43,"y":88.24}]},"mark":{"type":"text","fontSize":25.6,"align":"left","color":"black"},"encoding":{"text":{"field":"t"}}}
]}]}]}
]}
